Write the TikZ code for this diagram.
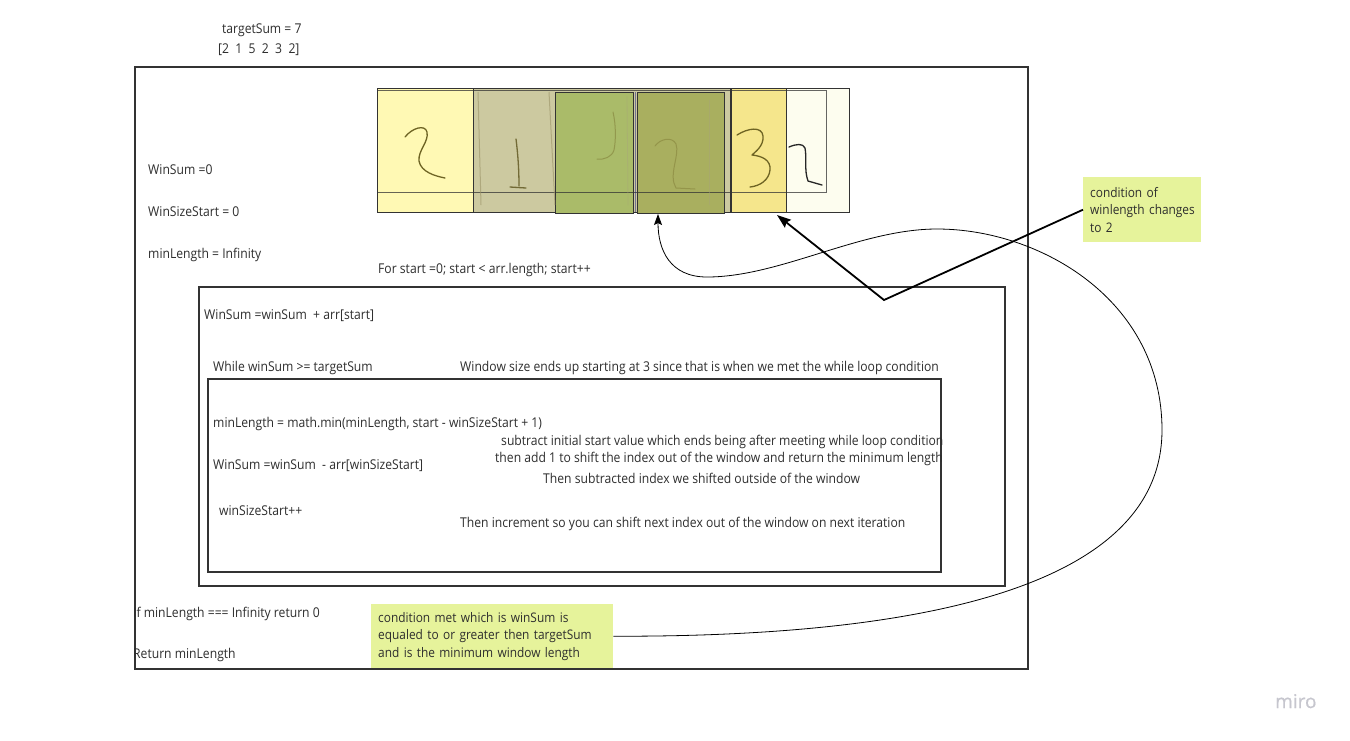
\documentclass[tikz,border=0pt]{standalone}
\usepackage{fontspec}
\setmainfont{Open Sans}[FakeStretch=0.9]
\newfontfamily\logofont{Open Sans}[FakeBold=0.6]
\usetikzlibrary{arrows.meta}
\definecolor{linec}{HTML}{333333}
\definecolor{textc}{HTML}{2E2E2E}
\definecolor{notec}{HTML}{E6F39B}
\definecolor{ylight}{HTML}{FFF9B4}
\definecolor{ggray}{HTML}{CCC9A0}
\definecolor{gmid}{HTML}{AABB69}
\definecolor{gdark}{HTML}{A9AF5F}
\definecolor{yel}{HTML}{F5E68C}
\definecolor{wcell}{HTML}{FDFDEF}
\definecolor{pen}{HTML}{6E6424}
\definecolor{logoc}{HTML}{C6C6CE}
\begin{document}
\begin{tikzpicture}[x=1pt,y=-1pt,
  txt/.style={anchor=base west, inner sep=0pt, font=\fontsize{13.5}{16}\selectfont, text=textc},
  frame/.style={draw=linec, line width=1.6pt, fill=none},
  cellbox/.style={draw=linec, line width=1.4pt, anchor=north west, inner sep=0pt},
  note/.style={fill=notec, anchor=north west, inner xsep=7pt, inner ysep=0pt, align=left,
    font=\fontsize{13.2}{17.5}\selectfont, text=textc},
  digit/.style={draw=pen, line width=1.3pt, line cap=round, line join=round},
  thickarrow/.style={draw=black, line width=1.8pt, -{Stealth[length=14pt,width=10pt,inset=2pt]}},
  thinarrow/.style={draw=black, line width=0.8pt, -{Stealth[length=11pt,width=8pt,inset=2pt]}}
]
\useasboundingbox (0,0) rectangle (1350,740);
\fill[white] (0,0) rectangle (1350,740);

% header texts
\node[txt] (ts) at (222,33.5) {targetSum = 7};
\node[txt] (arr) at (218,53.5) {[2\ \ 1\ \ 5\ \ 2\ \ 3\ \ 2]};

% frames
\node[frame, anchor=north west, minimum width=893, minimum height=602, inner sep=0pt] (outer) at (134,66) {};
\node[frame, anchor=north west, minimum width=806, minimum height=299, inner sep=0pt] (loopbox) at (198,286) {};
\node[frame, anchor=north west, minimum width=733, minimum height=193, inner sep=0pt] (whilebox) at (207,378) {};

% array cells
\node[cellbox, fill=wcell, minimum width=63, minimum height=124] (c6) at (786,88) {};
\node[cellbox, fill=ylight, minimum width=96, minimum height=124] (c1) at (377,88) {};
\node[cellbox, fill=ggray, minimum width=257, minimum height=124] (c2) at (473,88) {};
\node[cellbox, fill=gmid, minimum width=78, minimum height=121] (c3) at (555,92) {};
\node[cellbox, fill=gdark, minimum width=87, minimum height=121] (c4) at (637,92) {};
\node[cellbox, fill=yel, minimum width=55, minimum height=124] (c5) at (731,88) {};
\draw[linec, line width=1pt, opacity=0.75] (377,90.5) rectangle (826,192);
% sketch lines
\draw[pen!70, line width=1pt, opacity=0.6] (478,92) -- (481,205);
\draw[pen!70, line width=1pt, opacity=0.6] (549,92) -- (555,205);
\draw[pen!60, line width=0.8pt, opacity=0.4] (709,100) -- (709,205);
\draw[pen!60, line width=0.8pt, opacity=0.4] (627,96) -- (628,205);
\draw[linec!60!blue, line width=0.8pt, opacity=0.5] (635,92) -- (635,212);

% handwritten digits
\draw[digit] (405,137) .. controls (412,128) and (425,124) .. (427,132)
  .. controls (429,142) and (418,150) .. (419,161)
  .. controls (421,172) and (435,176) .. (445,178);
\draw[digit, draw=pen!80!gray] (516,139) .. controls (518,155) and (519,170) .. (519,186);
\draw[digit, draw=pen!80!gray] (510,187) -- (526,188);
\draw[digit, draw=pen!40!gmid, line width=1pt] (613,112) .. controls (616,125) and (616,140) .. (614,150)
  .. controls (612,157) and (604,160) .. (597,159);
\draw[digit, draw=pen!35!gdark, line width=1pt] (655,146) .. controls (660,139) and (672,136) .. (676,144)
  .. controls (680,155) and (668,175) .. (676,188) -- (695,189);
\draw[digit] (737,135) .. controls (748,128) and (762,126) .. (763,136)
  .. controls (764,146) and (755,152) .. (752,155)
  .. controls (762,156) and (771,160) .. (770,170)
  .. controls (769,180) and (760,186) .. (750,187);
\draw[digit, draw=black!85] (789,147) .. controls (796,144) and (803,143) .. (805,148)
  .. controls (807,158) and (804,170) .. (808,181) -- (822,185);

% left texts
\node[txt] (ws0) at (148,174.5) {WinSum =0};
\node[txt] (wss0) at (148,216.5) {WinSizeStart = 0};
\node[txt] (ml0) at (148,258.5) {minLength = Infinity};
\node[txt] (forl) at (378,273.5) {For start =0; start < arr.length; start++};
\node[txt] (wsadd) at (204,319.5) {WinSum =winSum\ \ + arr[start]};
\node[txt] (whl) at (213,371.5) {While winSum >= targetSum};
\node[txt] (winc) at (460,371.5) {Window size ends up starting at 3 since that is when we met the while loop condition};
\node[txt] (mlm) at (213,427.5) {minLength = math.min(minLength, start - winSizeStart + 1)};
\node[txt] (sub1) at (501,445.5) {subtract initial start value which ends being after meeting while loop condition};
\node[txt] (sub2) at (495,462.5) {then add 1 to shift the index out of the window and return the minimum length};
\node[txt] (wssub) at (213,469.5) {WinSum =winSum\ \ - arr[winSizeStart]};
\node[txt] (sub3) at (543,483.5) {Then subtracted index we shifted outside of the window};
\node[txt] (wsinc) at (219,515.5) {winSizeStart++};
\node[txt] (sub4) at (460,527.5) {Then increment so you can shift next index out of the window on next iteration};
\node[txt] (ifl) at (133,617.5) {If minLength === Infinity return 0};
\node[txt] (ret) at (133,658.5) {Return minLength};

% notes
\node[note, minimum width=118, minimum height=65, text width=104] (n1) at (1083,177) {condition of\\\mbox{winlength changes}\\to 2};
\node[note, minimum width=242, minimum height=64, text width=228] (n2) at (371,604) {condition met which is winSum is\\equaled to or greater then targetSum\\and is the minimum window length};

% connectors
\coordinate (bend) at (884,300);
\coordinate (t1) at (777,215);
\coordinate (t2) at (658,214);
\draw[thickarrow] (n1.west) -- (bend) -- (t1);
\draw[thinarrow] (n2.east) .. controls (880,637) and (1162,600) .. (1162,430)
  .. controls (1162,300) and (1040,229) .. (937,229)
  .. controls (860,229) and (780,277) .. (707,277)
  .. controls (670,277) and (658,250) .. (t2);

% logo
\node[anchor=base west, inner sep=0pt, font=\logofont\fontsize{19}{21}\selectfont, text=logoc] (logo) at (1275,708) {miro};
\end{tikzpicture}
\end{document}
